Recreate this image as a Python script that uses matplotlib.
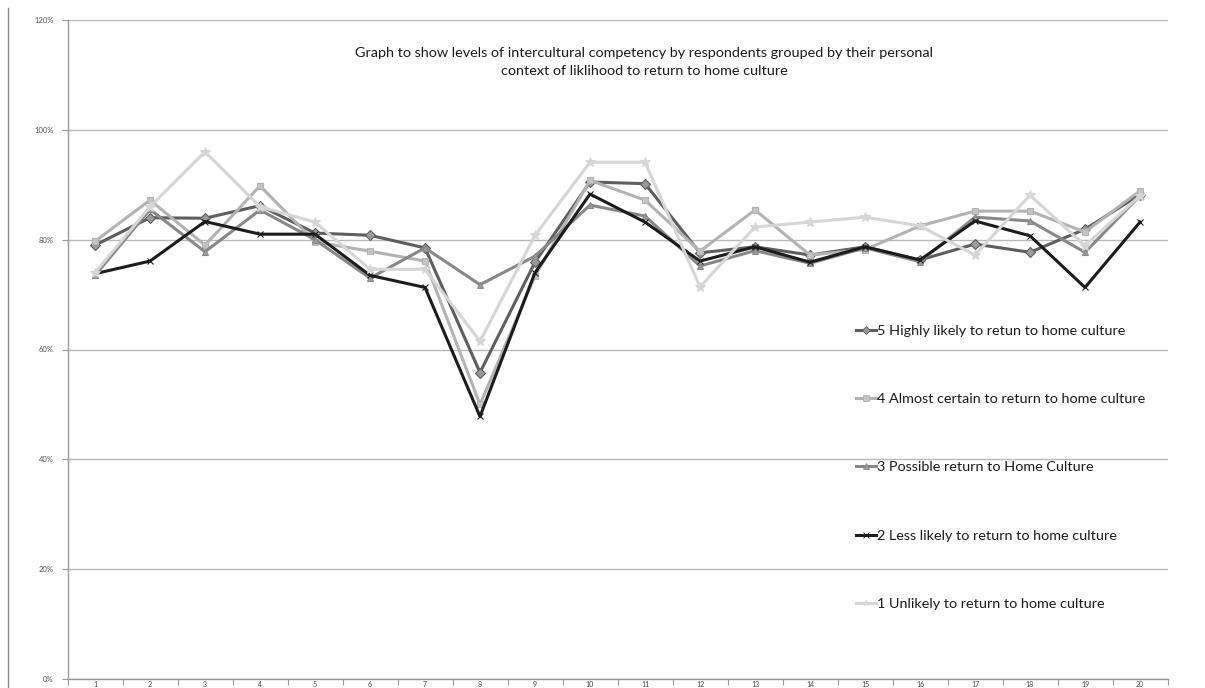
import numpy as np
import matplotlib
matplotlib.use("Agg")
import matplotlib.pyplot as plt
from matplotlib.lines import Line2D

plt.rcParams['font.family'] = ['Lato', 'DejaVu Sans']

questions = [str(i) for i in range(1, 21)]

highly_likely = [0.790, 0.840, 0.839, 0.862, 0.812, 0.808, 0.785, 0.558, 0.759, 0.905,
                 0.902, 0.776, 0.787, 0.772, 0.787, 0.763, 0.792, 0.777, 0.819, 0.882]
almost_certain = [0.797, 0.872, 0.790, 0.898, 0.796, 0.779, 0.761, 0.500, 0.734, 0.908,
                  0.872, 0.779, 0.854, 0.772, 0.782, 0.825, 0.852, 0.852, 0.814, 0.889]
possible = [0.735, 0.855, 0.778, 0.854, 0.800, 0.730, 0.785, 0.718, 0.770, 0.863,
            0.843, 0.752, 0.780, 0.757, 0.785, 0.760, 0.841, 0.834, 0.777, 0.880]
less_likely = [0.738, 0.761, 0.833, 0.810, 0.810, 0.735, 0.713, 0.478, 0.740, 0.883,
               0.832, 0.761, 0.787, 0.759, 0.787, 0.763, 0.834, 0.807, 0.713, 0.832]
unlikely = [0.740, 0.860, 0.960, 0.860, 0.832, 0.746, 0.746, 0.615, 0.808, 0.941,
            0.941, 0.714, 0.823, 0.832, 0.841, 0.825, 0.772, 0.881, 0.789, 0.880]

series_labels = ['5 Highly likely to retun to home culture',
                 '4 Almost certain to return to home culture',
                 '3 Possible return to Home Culture',
                 '2 Less likely to return to home culture',
                 '1 Unlikely to return to home culture']

title = ('Graph to show levels of intercultural competency by respondents grouped by their personal\n'
         'context of liklihood to return to home culture')

# line colour, marker, marker face colour
styles = [('#5e5e5e', 'D', '#9a9a9a'),
          ('#b3b3b3', 's', '#c4c4c4'),
          ('#888888', '^', '#9c9c9c'),
          ('#1c1c1c', 'x', '#1c1c1c'),
          ('#d6d6d6', '*', '#d6d6d6')]

W, H = 1205, 688
fig = plt.figure(figsize=(W / 100, H / 100), dpi=100)
ax = fig.add_axes([67.5 / W, 1 - 679 / H, 1100 / W, 659 / H])

x = np.arange(1, len(questions) + 1)
all_series = [highly_likely, almost_certain, possible, less_likely, unlikely]
handles = []
for vals, lab, (col, mk, mfc) in zip(all_series, series_labels, styles):
    ms = 5 if mk != '*' else 7
    ax.plot(x, vals, color=col, linewidth=2.2, marker=mk, markersize=ms,
            markerfacecolor=mfc, markeredgecolor=col, markeredgewidth=0.8, zorder=3)
    handles.append(Line2D([], [], color=col, linewidth=2.2, marker=mk, markersize=4,
                          markerfacecolor=mfc, markeredgecolor=col, markeredgewidth=0.6))

ax.set_xlim(0.5, len(questions) + 0.5)
ax.set_ylim(0, 1.2)

ax.set_yticks(np.arange(0, 1.21, 0.2))
ax.set_yticklabels([f'{int(round(v * 100))}%' for v in np.arange(0, 1.21, 0.2)])
ax.yaxis.grid(True, color='#b8b8b8', linewidth=1.0)
ax.set_axisbelow(True)

ax.set_xticks(x)
ax.set_xticklabels(questions)
ax.set_xticks(np.arange(0.5, len(questions) + 1, 1), minor=True)
ax.tick_params(axis='x', which='major', length=0, labelsize=5, pad=1.5, labelcolor='#444444')
ax.tick_params(axis='x', which='minor', length=4, color='#999999', width=0.8)
ax.tick_params(axis='y', length=4, color='#999999', width=0.8, labelsize=5.5,
               labelcolor='#555555', pad=6)

for side in ['top', 'right']:
    ax.spines[side].set_visible(False)
for side in ['left', 'bottom']:
    ax.spines[side].set_color('#999999')
    ax.spines[side].set_linewidth(1.0)

fig.text(644 / W, 1 - 62 / H, title, ha='center', va='center', fontsize=10.4,
         color='#1a1a1a', linespacing=1.65)

leg = ax.legend(handles=handles, labels=series_labels, loc='upper left',
                bbox_to_anchor=(856 / W, 1 - 325 / H), bbox_transform=fig.transFigure,
                frameon=False, fontsize=10.4, labelspacing=3.88, handlelength=1.35,
                handletextpad=0.12, borderpad=0, borderaxespad=0)
for t in leg.get_texts():
    t.set_color('#1a1a1a')

# page border on the left
fig.add_artist(Line2D([8 / W, 8 / W], [0, 1 - 8 / H], transform=fig.transFigure,
                      color='#8a8a8a', linewidth=1.0))

fig.savefig('out.png', dpi=100)
